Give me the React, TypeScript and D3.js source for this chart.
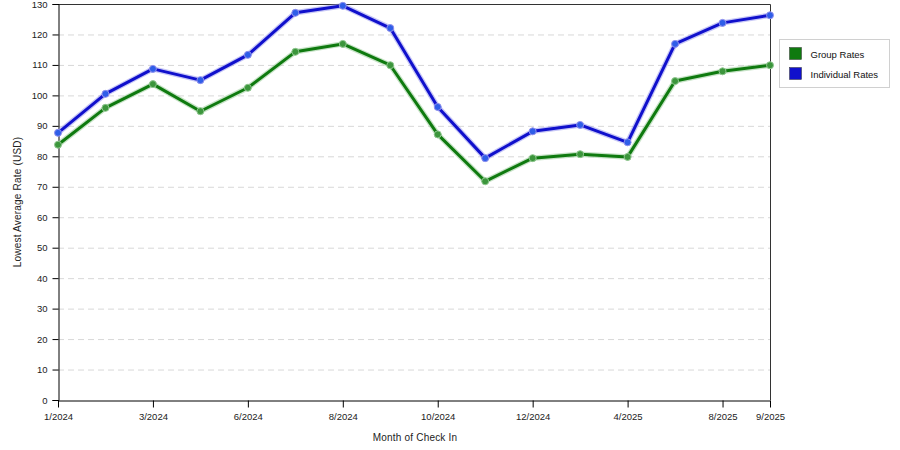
import { useEffect, useRef } from 'react';
import * as d3 from 'd3';

// Chart data
const months = ['1/2024', '2/2024', '3/2024', '5/2024', '6/2024', '7/2024', '8/2024', '9/2024',
                '10/2024', '11/2024', '12/2024', '1/2025', '4/2025', '5/2025', '8/2025', '9/2025'];
const shownTicks = ['1/2024', '3/2024', '6/2024', '8/2024', '10/2024', '12/2024', '4/2025', '8/2025', '9/2025'];
const groupRates = [83.8, 95.9, 103.7, 94.8, 102.5, 114.3, 116.9, 109.9, 87.2, 71.8, 79.4, 80.7, 79.8, 104.7, 107.9, 109.9];
const individualRates = [87.7, 100.5, 108.7, 105.0, 113.3, 127.1, 129.4, 122.1, 96.2, 79.4, 88.2, 90.3, 84.6, 116.9, 123.8, 126.3];
const yTicks = d3.range(0, 131, 10);

const series = [
  { name: 'Group Rates', values: groupRates, color: '#0f7a0f', glow: '#8fc78f', dot: '#3c963c' },
  { name: 'Individual Rates', values: individualRates, color: '#1010cc', glow: '#9090ee', dot: '#2f5ee8' },
];

const width = 900;
const height = 450;
const margin = { top: 4, right: 130, bottom: 50, left: 58 };
const font = '"Liberation Sans", Arial, sans-serif';

function drawChart(node: SVGSVGElement) {
  const svg = d3.select(node);
  svg.selectAll('*').remove();

  const x = d3.scalePoint()
    .domain(months)
    .range([margin.left, width - margin.right]);

  const y = d3.scaleLinear()
    .domain([0, 130])
    .range([height - margin.bottom, margin.top]);

  // grid
  svg.append('g')
    .selectAll('line')
    .data(yTicks.filter(d => d > 0 && d < 130))
    .join('line')
    .attr('x1', margin.left)
    .attr('x2', width - margin.right)
    .attr('y1', d => y(d) + 0.5)
    .attr('y2', d => y(d) + 0.5)
    .attr('stroke', '#d8d8d8')
    .attr('stroke-dasharray', '6,4');

  // frame (top + right)
  svg.append('path')
    .attr('d', `M${margin.left},${margin.top + 0.5}H${width - margin.right + 0.5}V${height - margin.bottom}`)
    .attr('fill', 'none')
    .attr('stroke', '#333');

  // y axis
  const yAxis = svg.append('g')
    .attr('transform', `translate(${margin.left + 0.5},0)`)
    .call(d3.axisLeft(y).tickValues(yTicks).tickSize(6).tickPadding(5));
  yAxis.select('.domain').attr('stroke', '#000');
  yAxis.selectAll('.tick line').attr('stroke', '#000');
  yAxis.selectAll('text').attr('font-family', font).attr('font-size', 9.5).attr('fill', '#222');

  // x axis
  const xAxis = svg.append('g')
    .attr('transform', `translate(0,${height - margin.bottom + 0.5})`)
    .call(d3.axisBottom(x).tickValues(shownTicks).tickSize(7).tickPadding(6).tickSizeOuter(0));
  xAxis.select('.domain').attr('stroke', '#000');
  xAxis.selectAll('.tick line').attr('stroke', '#000');
  xAxis.selectAll('text').attr('font-family', font).attr('font-size', 9.5).attr('fill', '#222');

  // axis titles
  svg.append('text')
    .attr('x', (margin.left + width - margin.right) / 2 + 1)
    .attr('y', 441)
    .attr('text-anchor', 'middle')
    .attr('font-family', font)
    .attr('font-size', 10)
    .attr('letter-spacing', 0.2)
    .attr('fill', '#222')
    .text('Month of Check In');

  svg.append('text')
    .attr('transform', `translate(21,${(margin.top + height - margin.bottom) / 2}) rotate(-90)`)
    .attr('text-anchor', 'middle')
    .attr('font-family', font)
    .attr('font-size', 10)
    .attr('letter-spacing', 0.2)
    .attr('fill', '#222')
    .text('Lowest Average Rate (USD)');

  const line = d3.line<number>()
    .x((d, i) => x(months[i]) as number)
    .y(d => y(d));

  series.forEach(s => {
    const g = svg.append('g');
    g.append('path')
      .datum(s.values)
      .attr('d', line)
      .attr('fill', 'none')
      .attr('stroke', s.glow)
      .attr('stroke-opacity', 0.5)
      .attr('stroke-width', 5.5)
      .attr('stroke-linejoin', 'round');
    g.append('path')
      .datum(s.values)
      .attr('d', line)
      .attr('fill', 'none')
      .attr('stroke', s.color)
      .attr('stroke-width', 3)
      .attr('stroke-linejoin', 'round');
    g.selectAll('circle')
      .data(s.values)
      .join('circle')
      .attr('cx', (d, i) => x(months[i]) as number)
      .attr('cy', d => y(d))
      .attr('r', 3.5)
      .attr('fill', s.dot)
      .attr('stroke', s.glow)
      .attr('stroke-width', 1);
  });

  // legend
  const lg = svg.append('g').attr('transform', 'translate(779.5,39.5)');
  lg.append('rect')
    .attr('width', 110)
    .attr('height', 48)
    .attr('fill', '#fff')
    .attr('stroke', '#d0d0d0');
  series.forEach((s, i) => {
    lg.append('rect')
      .attr('x', 10)
      .attr('y', 8 + i * 20)
      .attr('width', 12)
      .attr('height', 12)
      .attr('fill', s.color)
      .attr('stroke', '#333')
      .attr('stroke-width', 0.5);
    lg.append('text')
      .attr('x', 31)
      .attr('y', 18 + i * 20)
      .attr('font-family', font)
      .attr('font-size', 9.5)
      .attr('fill', '#111')
      .text(s.name);
  });
}

export default function App() {
  const ref = useRef<SVGSVGElement>(null);

  useEffect(() => {
    if (ref.current) drawChart(ref.current);
  }, []);

  return (
    <svg
      ref={ref}
      width={width}
      height={height}
      style={{ position: 'absolute', left: 0, top: 0, background: '#fff' }}
    />
  );
}
